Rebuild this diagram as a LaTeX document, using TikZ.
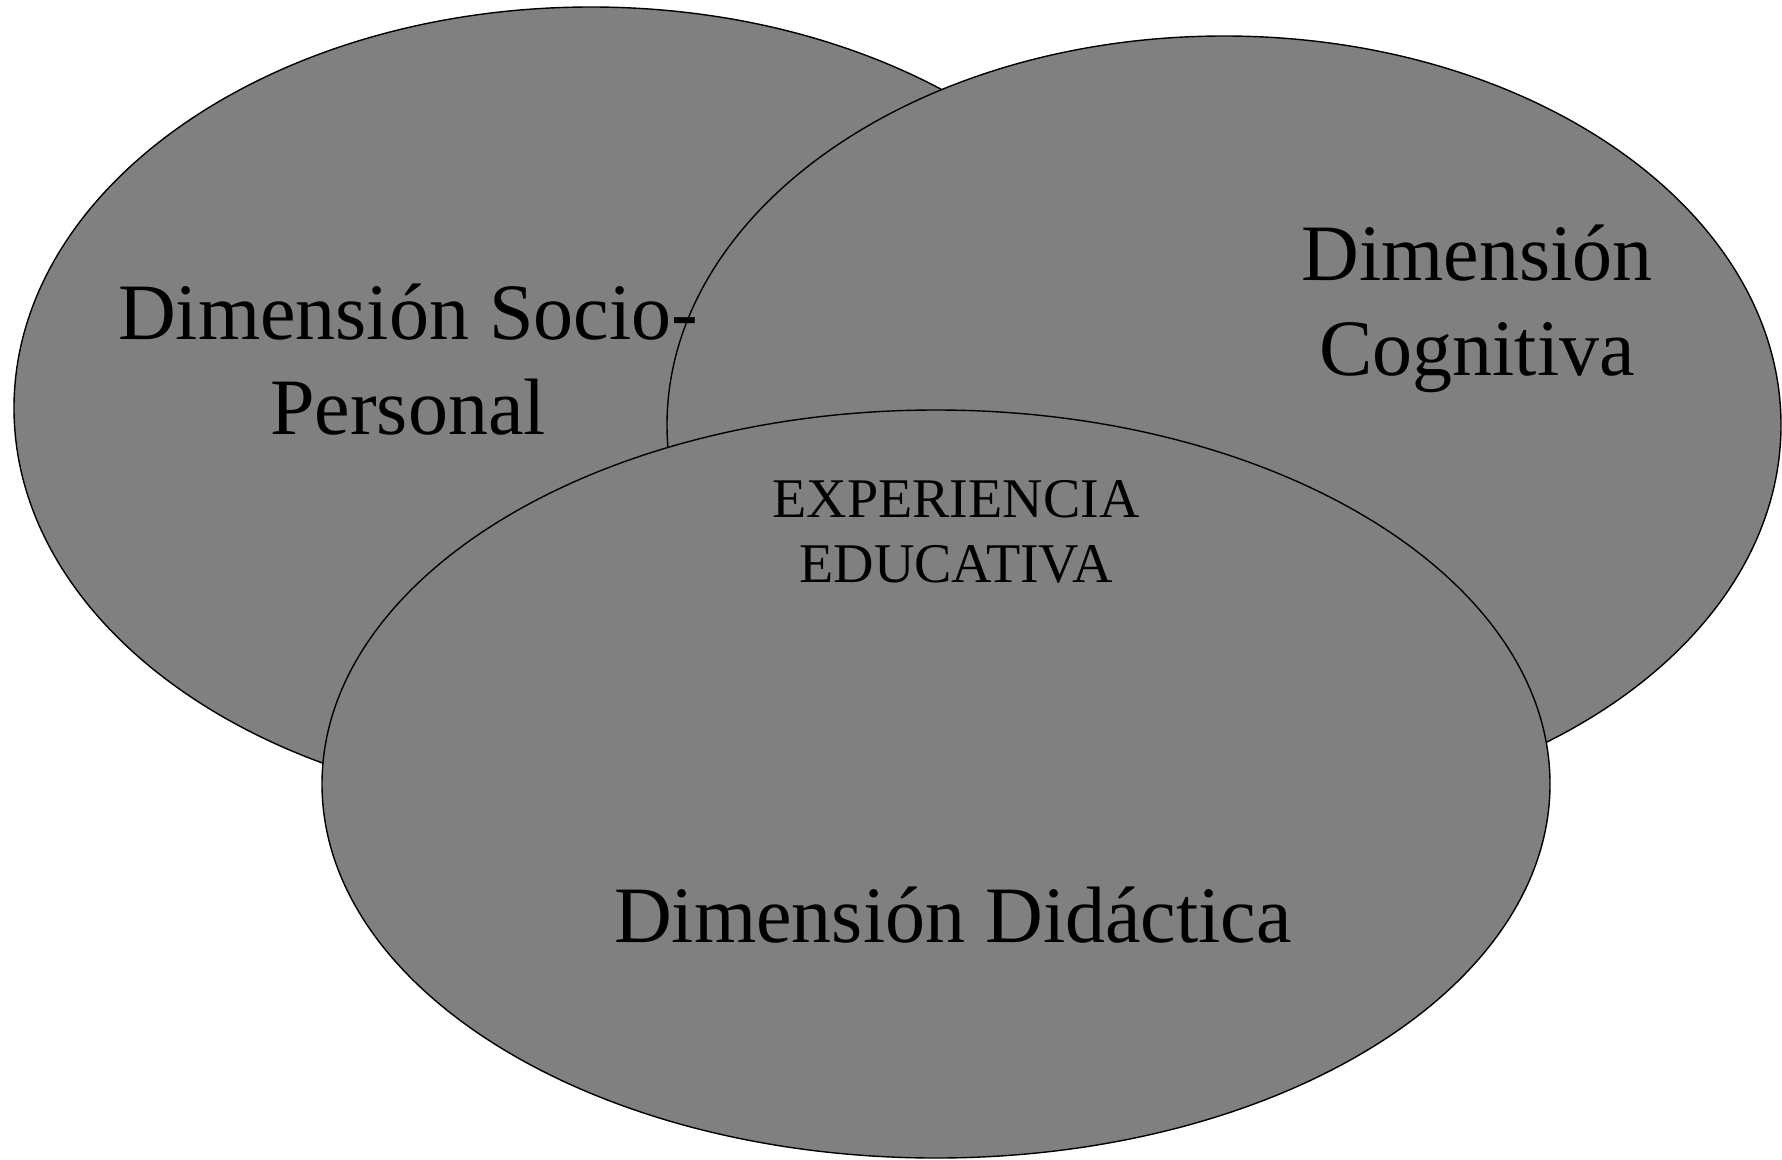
\documentclass[tikz,border=0pt]{standalone}
\usepackage{fontspec}
\setmainfont{Liberation Serif}
\usetikzlibrary{shapes.geometric}
\definecolor{dimgray}{HTML}{808080}
\begin{document}
\begin{tikzpicture}[x=1pt,y=-1pt,
    dimension/.style={ellipse, draw=black, fill=dimgray, line width=1.4pt, inner sep=0pt},
    bigtext/.style={align=center, inner sep=0pt, anchor=base, font=\fontsize{80}{95}\selectfont},
    smalltext/.style={align=center, inner sep=0pt, anchor=base, font=\fontsize{56}{65}\selectfont}]
  \useasboundingbox (0,0) rectangle (1782,1159);

  % the three dimensions
  \node [dimension, minimum width=1154pt, minimum height=802pt] (SP) at (591,408) {};
  \node [dimension, minimum width=1114pt, minimum height=778pt] (COG) at (1224,425) {};
  \node [dimension, minimum width=1228pt, minimum height=748pt] (DID) at (936,784) {};

  % base = baseline of the last line
  \node [bigtext] (SPtext) at (408,434) {Dimensión Socio-\\Personal};
  \node [bigtext] (COGtext) at (1477,375) {Dimensión\\Cognitiva};
  \node [smalltext] (EXPtext) at (956,582) {EXPERIENCIA\\EDUCATIVA};
  \node [bigtext] (DIDtext) at (953,942) {Dimensión Didáctica};
\end{tikzpicture}
\end{document}
